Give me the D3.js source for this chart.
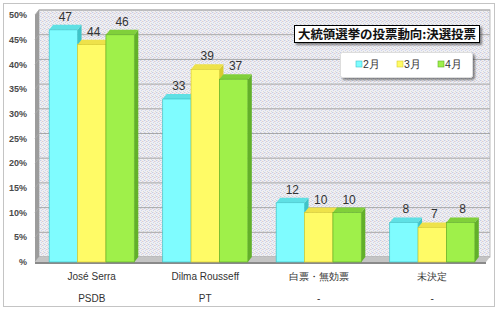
<!DOCTYPE html>
<html>
<head>
<meta charset="utf-8">
<script src="https://cdn.jsdelivr.net/npm/d3@7"></script>
<style>
  html, body { margin: 0; padding: 0; background: #fff; }
  svg { display: block; }
</style>
</head>
<body>
<div id="chart"></div>
<script>
const categories = ["José Serra", "Dilma Rousseff", "白票・無効票", "未決定"];
const parties = ["PSDB", "PT", "-", "-"];
const months = ["2月", "3月", "4月"];
const feb = [47, 33, 12, 8];
const mar = [44, 39, 10, 7];
const apr = [46, 37, 10, 8];
const yTicks = [0, 5, 10, 15, 20, 25, 30, 35, 40, 45, 50];
const title = "大統領選挙の投票動向:決選投票";

const series = [feb, mar, apr];
const colors = ["#7ffcff", "#fffb66", "#9ff04a"];
const sideColors = ["#3fc4c8", "#d8cc2e", "#62b02a"];
const topColors = ["#5fe0e4", "#eee24a", "#80d03a"];

const width = 500, height = 310;
const dx = 4, dy = -5;  // depth offset of the back wall

const svg = d3.select("#chart").append("svg")
    .attr("width", width)
    .attr("height", height)
    .attr("font-family", "'Liberation Sans', Arial, sans-serif");

// dotted texture for the wall
const defs = svg.append("defs");
const pat = defs.append("pattern")
    .attr("id", "dots")
    .attr("width", 4).attr("height", 4)
    .attr("patternUnits", "userSpaceOnUse");
pat.append("rect").attr("width", 4).attr("height", 4).attr("fill", "#efeff2");
[[0, 0, "#c3cce8"], [2, 1, "#e4cccc"], [1, 2, "#cdd4ee"], [3, 3, "#d8d8d8"], [3, 1, "#d6dcf0"], [1, 0, "#e6e0e0"]]
    .forEach(([px, py, c]) => pat.append("rect").attr("x", px).attr("y", py)
        .attr("width", 1).attr("height", 1).attr("fill", c));

const shadow = defs.append("filter").attr("id", "shadow")
    .attr("x", "-10%").attr("y", "-20%").attr("width", "130%").attr("height", "160%");
shadow.append("feDropShadow").attr("dx", 2).attr("dy", 2)
    .attr("stdDeviation", 1).attr("flood-color", "#000").attr("flood-opacity", 0.45);

// outer chart border
svg.append("rect")
    .attr("x", 3.5).attr("y", 3.5)
    .attr("width", 491).attr("height", 303)
    .attr("fill", "#fff")
    .attr("stroke", "#c4c4c4");

const x0 = 35, x1 = 489;
const x = d3.scaleBand(categories, [x0, x1]).paddingInner(0.25).paddingOuter(0.125);
const xs = d3.scaleBand(d3.range(months.length), [0, x.bandwidth()]);
const y = d3.scaleLinear([0, 50], [262, 15]);

// back wall
svg.append("rect")
    .attr("x", x0 + dx).attr("y", y(50) + dy)
    .attr("width", x1 - x0 - dx + 1).attr("height", y(0) - y(50))
    .attr("fill", "url(#dots)")
    .attr("stroke", "#bdbdbd");

// left side wall
svg.append("path")
    .attr("d", `M${x0},${y(50)}L${x0 + dx},${y(50) + dy}L${x0 + dx},${y(0) + dy}L${x0},${y(0)}Z`)
    .attr("fill", "#9c9c9c");

// gridlines
svg.append("g")
    .selectAll("path")
    .data(yTicks)
    .join("path")
    .attr("d", d => `M${x0},${y(d)}L${x0 + dx},${y(d) + dy}L${x1 + 1},${y(d) + dy}`)
    .attr("fill", "none")
    .attr("stroke", "#a8a8a8")
    .attr("stroke-width", 1);

// floor
svg.append("path")
    .attr("d", `M${x0},${y(0)}L${x0 + dx},${y(0) + dy}L${x1 + 1},${y(0) + dy}L${x1 + 1 - dx},${y(0)}Z`)
    .attr("fill", "#c4c4c4");
svg.append("rect")
    .attr("x", x0).attr("y", y(0))
    .attr("width", x1 - x0 - dx + 1).attr("height", 2)
    .attr("fill", "#8a8a8a");

// y axis labels
svg.append("g")
    .attr("font-size", 9)
    .attr("font-weight", "bold")
    .attr("fill", "#4a4a4a")
    .attr("text-anchor", "end")
    .selectAll("text")
    .data(yTicks)
    .join("text")
    .attr("x", 27)
    .attr("y", d => y(d))
    .attr("dy", "0.35em")
    .text(d => d === 0 ? "%" : d + "%");

// bars
const bars = [];
categories.forEach((c, i) => {
    series.forEach((s, j) => {
        bars.push({ cat: c, idx: j, value: s[i] });
    });
});

const barG = svg.append("g")
    .selectAll("g")
    .data(bars)
    .join("g");

barG.append("path")  // side face
    .attr("d", d => {
        const bx = x(d.cat) + xs(d.idx), w = xs.bandwidth(), t = y(d.value), b = y(0);
        return `M${bx + w},${t}L${bx + w + dx},${t + dy}L${bx + w + dx},${b + dy}L${bx + w},${b}Z`;
    })
    .attr("fill", d => sideColors[d.idx]);

barG.append("path")  // top face
    .attr("d", d => {
        const bx = x(d.cat) + xs(d.idx), w = xs.bandwidth(), t = y(d.value);
        return `M${bx},${t}L${bx + dx},${t + dy}L${bx + w + dx},${t + dy}L${bx + w},${t}Z`;
    })
    .attr("fill", d => topColors[d.idx]);

barG.append("rect")  // front face
    .attr("x", d => x(d.cat) + xs(d.idx))
    .attr("y", d => y(d.value))
    .attr("width", xs.bandwidth())
    .attr("height", d => y(0) - y(d.value))
    .attr("fill", d => colors[d.idx])
    .attr("stroke", d => sideColors[d.idx])
    .attr("stroke-width", 0.7);

// value labels
svg.append("g")
    .attr("font-size", 12)
    .attr("fill", "#333")
    .attr("text-anchor", "middle")
    .selectAll("text")
    .data(bars)
    .join("text")
    .attr("x", d => x(d.cat) + xs(d.idx) + xs.bandwidth() / 2 + 2)
    .attr("y", d => y(d.value) - 9)
    .text(d => d.value);

// category labels
const catG = svg.append("g")
    .attr("font-size", 10)
    .attr("fill", "#333")
    .attr("text-anchor", "middle");
catG.selectAll(".name")
    .data(categories)
    .join("text")
    .attr("class", "name")
    .attr("x", d => x(d) + x.bandwidth() / 2)
    .attr("y", 280)
    .text(d => d);
catG.selectAll(".party")
    .data(categories)
    .join("text")
    .attr("class", "party")
    .attr("x", d => x(d) + x.bandwidth() / 2)
    .attr("y", 302)
    .text((d, i) => parties[i]);

// title box
const tg = svg.append("g");
tg.append("rect")
    .attr("x", 294.5).attr("y", 25.5)
    .attr("width", 185).attr("height", 17)
    .attr("fill", "#fff")
    .attr("stroke", "#000")
    .attr("filter", "url(#shadow)");
tg.append("text")
    .attr("x", 298).attr("y", 38.5)
    .attr("textLength", 178)
    .attr("lengthAdjust", "spacing")
    .attr("font-family", "'Noto Sans CJK JP', sans-serif")
    .attr("font-size", 12.5)
    .attr("font-weight", "bold")
    .attr("fill", "#111")
    .text(title);

// legend
const lg = svg.append("g");
lg.append("rect")
    .attr("x", 340.5).attr("y", 52.5)
    .attr("width", 132).attr("height", 25)
    .attr("rx", 2)
    .attr("fill", "#fff")
    .attr("stroke", "#ddd")
    .attr("filter", "url(#shadow)");
const item = lg.selectAll("g")
    .data(months)
    .join("g")
    .attr("transform", (d, i) => `translate(${356 + i * 41},0)`);
item.append("rect")
    .attr("x", 0).attr("y", 61)
    .attr("width", 6).attr("height", 6)
    .attr("fill", (d, i) => colors[i])
    .attr("stroke", (d, i) => sideColors[i])
    .attr("stroke-width", 0.6);
item.append("text")
    .attr("x", 7).attr("y", 68)
    .attr("font-size", 10.5)
    .attr("fill", "#333")
    .text(d => d);
</script>
</body>
</html>
